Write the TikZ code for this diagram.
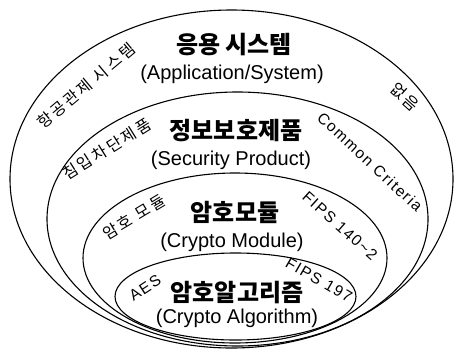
\documentclass[tikz,border=0pt]{standalone}
\usepackage{fontspec}
\setmainfont{Liberation Sans}
\newfontfamily\krfont{Noto Sans CJK KR}
\newfontfamily\krtagfont{Noto Sans CJK KR}[LetterSpace=16]
\newfontfamily\entagfont{Liberation Sans}[LetterSpace=10]
\tikzset{
  ring/.style={line width=1.1pt},
  title/.style={font=\krfont\bfseries\fontsize{24}{26}\selectfont, inner sep=0pt},
  subtitle/.style={font=\fontsize{20}{22}\selectfont, inner sep=0pt},
  krtag/.style={font=\krtagfont\fontsize{16}{17}\selectfont, inner sep=0pt, rotate=#1},
  entag/.style={font=\entagfont\fontsize{15.5}{17}\selectfont, inner sep=0pt, rotate=#1}
}

\begin{document}
\begin{tikzpicture}[x=1pt,y=-1pt]
            \useasboundingbox (0,0) rectangle (457,351);

            % Nested rings, all meeting near the bottom
            \foreach \cx/\cy/\rx/\ry in {231.5/179/221.5/169, 237.5/219/190.5/127, 235/258/152/85, 235.5/296.5/120.5/43.5}
                \draw[ring] (\cx,\cy) ellipse [x radius=\rx pt, y radius=\ry pt];

            % Ring titles
            \node[title] (app) at (234,45) {응용 시스템};
            \node[subtitle] (appen) at (232,74) {(Application/System)};
            \node[title] (sec) at (236,131) {정보보호제품};
            \node[subtitle] (secen) at (231,160) {(Security Product)};
            \node[title] (mod) at (235,212) {암호모듈};
            \node[subtitle] (moden) at (232,242) {(Crypto Module)};
            \node[title] (alg) at (237,293) {암호알고리즘};
            \node[subtitle] (algen) at (237,318) {(Crypto Algorithm)};

            % Examples set along each ring
            \node[krtag=40] (atc) at (86,86) {항공관제 시스템};
            \node[krtag=-42] (none) at (405,97) {없음};
            \node[krtag=32] (fw) at (107,149) {침입차단제품};
            \node[entag=-43] (cc) at (370,162) {Common Criteria};
            \node[krtag=31] (cmod) at (134,217) {암호 모듈};
            \node[entag=-42] (fips) at (340,226) {FIPS 140\textasciitilde 2};
            \node[entag=33] (aes) at (145,288) {AES};
            \node[entag=-30] (fipsalg) at (319,280) {FIPS 197};
\end{tikzpicture}
\end{document}
